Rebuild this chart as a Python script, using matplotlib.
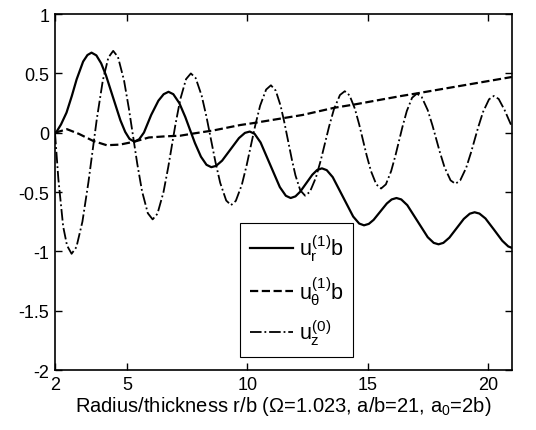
import numpy as np
import matplotlib
matplotlib.use('Agg')
import matplotlib.pyplot as plt

plt.rcParams['font.family'] = ['Liberation Sans', 'DejaVu Sans']
plt.rcParams['mathtext.fontset'] = 'custom'
plt.rcParams['mathtext.rm'] = 'Liberation Sans'
plt.rcParams['mathtext.it'] = 'Liberation Sans'
plt.rcParams['mathtext.bf'] = 'Liberation Sans:bold'
plt.rcParams['axes.unicode_minus'] = False

# u_r^(1) b  (solid)
r_ur = [2.0, 2.07, 2.25, 2.48, 2.7, 2.9, 3.17, 3.35, 3.52, 3.72, 3.92, 4.12, 4.42, 4.72, 4.92, 5.1, 5.3,
        5.5, 5.7, 6.0, 6.3, 6.52, 6.72, 6.92, 7.17, 7.42, 7.62, 7.82, 8.07, 8.3, 8.5,
        8.7, 8.95, 9.3, 9.65, 9.9, 10.1, 10.3, 10.55, 10.95, 11.35, 11.6, 11.8,
        12.0, 12.2, 12.45, 12.7, 12.9, 13.1, 13.3, 13.55, 13.975, 14.4, 14.65, 14.85,
        15.05, 15.25, 15.525, 15.8, 16.0, 16.2, 16.4, 16.65, 17.075, 17.5, 17.75, 17.95,
        18.15, 18.4, 18.7, 19.0, 19.25, 19.45, 19.65, 19.9, 20.25, 20.6, 20.85, 21.0]
ur = [0.0, 0.01, 0.07, 0.17, 0.31, 0.45, 0.60, 0.655, 0.675, 0.652, 0.585, 0.484, 0.294, 0.105, 0.007, -0.052, -0.075,
      -0.055, 0.002, 0.15, 0.27, 0.325, 0.345, 0.325, 0.25, 0.132, 0.022, -0.087, -0.202, -0.27, -0.29,
      -0.279, -0.235, -0.14, -0.045, -0.001, 0.01, -0.009, -0.082, -0.27, -0.458, -0.531, -0.55,
      -0.536, -0.496, -0.425, -0.354, -0.314, -0.30, -0.315, -0.374, -0.54, -0.706, -0.765, -0.78,
      -0.768, -0.734, -0.665, -0.596, -0.562, -0.55, -0.562, -0.61, -0.745, -0.88, -0.928, -0.94,
      -0.928, -0.884, -0.805, -0.726, -0.682, -0.67, -0.681, -0.722, -0.815, -0.91, -0.958, -0.97]

# u_theta^(1) b  (dashed)
r_ut = [2.0, 2.5, 3.0, 3.6, 4.15, 4.7, 5.3, 5.9, 6.6, 7.2, 7.8, 8.6, 9.7, 10.2, 11.1, 12.3, 13.6,
        14.5, 16.4, 17.0, 19.0, 21.0]
ut = [0.0, 0.03, -0.01, -0.07, -0.105, -0.10, -0.075, -0.04, -0.03, -0.025, -0.005, 0.02, 0.065,
      0.08, 0.11, 0.15, 0.21, 0.24, 0.31, 0.33, 0.40, 0.47]

# u_z^(0)  (dash-dot)
r_uz = [2.0, 2.14, 2.34, 2.5, 2.69, 2.89, 3.14, 3.39, 3.555, 3.74, 3.99, 4.22, 4.42,
        4.62, 4.87, 5.07, 5.24, 5.42, 5.62, 5.86, 6.06, 6.26, 6.51, 6.71, 6.855, 7.01, 7.21, 7.45, 7.65,
        7.85, 8.1, 8.3, 8.485, 8.67, 8.87, 9.12, 9.32, 9.52, 9.77, 9.97, 10.15, 10.33, 10.53, 10.78, 10.98,
        11.18, 11.38, 11.53, 11.69, 11.85, 12.0, 12.2, 12.4, 12.6, 12.85, 13.05, 13.225, 13.4, 13.6, 13.85, 14.05,
        14.25, 14.47, 14.65, 14.805, 14.96, 15.14, 15.36, 15.56, 15.76, 15.98, 16.16, 16.305, 16.45, 16.63, 16.85, 17.05,
        17.25, 17.5, 17.7, 17.85, 18.0, 18.2, 18.45, 18.65, 18.85, 19.1, 19.3, 19.45, 19.6, 19.8, 20.05, 20.25,
        20.45, 20.7, 21.0]
uz = [0.0, -0.39, -0.79, -0.95, -1.02, -0.964, -0.75, -0.417, -0.165, 0.117, 0.442, 0.634, 0.69,
      0.638, 0.442, 0.207, -0.02, -0.26, -0.493, -0.678, -0.73, -0.683, -0.502, -0.289, -0.115, 0.071, 0.282, 0.452, 0.50,
      0.461, 0.312, 0.134, -0.055, -0.244, -0.422, -0.571, -0.61, -0.574, -0.438, -0.274, -0.105, 0.064, 0.228, 0.364, 0.40,
      0.355, 0.229, 0.095, -0.065, -0.225, -0.359, -0.485, -0.53, -0.498, -0.378, -0.234, -0.09, 0.054, 0.198, 0.318, 0.35,
      0.315, 0.203, 0.07, -0.06, -0.19, -0.323, -0.435, -0.47, -0.435, -0.323, -0.19, -0.07, 0.05, 0.183, 0.295, 0.33,
      0.301, 0.191, 0.06, -0.05, -0.16, -0.291, -0.401, -0.43, -0.402, -0.295, -0.167, -0.06, 0.047, 0.175, 0.282, 0.31,
      0.285, 0.19, 0.05]

xticks = [2, 5, 10, 15, 20]
yticks = [-2, -1.5, -1, -0.5, 0, 0.5, 1]
yticklabels = ['-2', '-1.5', '-1', '-0.5', '0', '0.5', '1']

fig = plt.figure(figsize=(5.36, 4.31), dpi=100)
ax = fig.add_axes([0.1026, 0.139, 0.8524, 0.826])

ax.plot(r_ur, ur, '-', color='black', lw=1.6, label=r'$u_r^{(1)}b$')
ax.plot(r_ut, ut, '--', color='black', lw=1.6, label=r'$u_\theta^{(1)}b$')
ax.plot(r_uz, uz, '-.', color='black', lw=1.3, label=r'$u_z^{(0)}$')

ax.set_xlim(2, 21)
ax.set_ylim(-2, 1)
ax.set_xticks(xticks)
ax.set_yticks(yticks)
ax.set_yticklabels(yticklabels)
ax.tick_params(direction='in', top=True, right=True, length=5, width=1, labelsize=13, pad=4)
for s in ax.spines.values():
    s.set_linewidth(1.2)

ax.set_xlabel(r'Radius/thickness r/b ($\Omega$=1.023, a/b=21, a$_0$=2b)', fontsize=14.5, labelpad=1)

leg = ax.legend(loc='lower left', bbox_to_anchor=(0.406, 0.037), fontsize=15.5, fancybox=False,
                edgecolor='black', framealpha=1, handlelength=2.0, handletextpad=0.25,
                labelspacing=0.5, borderpad=0.45, borderaxespad=0)
leg.get_frame().set_linewidth(0.8)

plt.savefig('out.png', dpi=100)
